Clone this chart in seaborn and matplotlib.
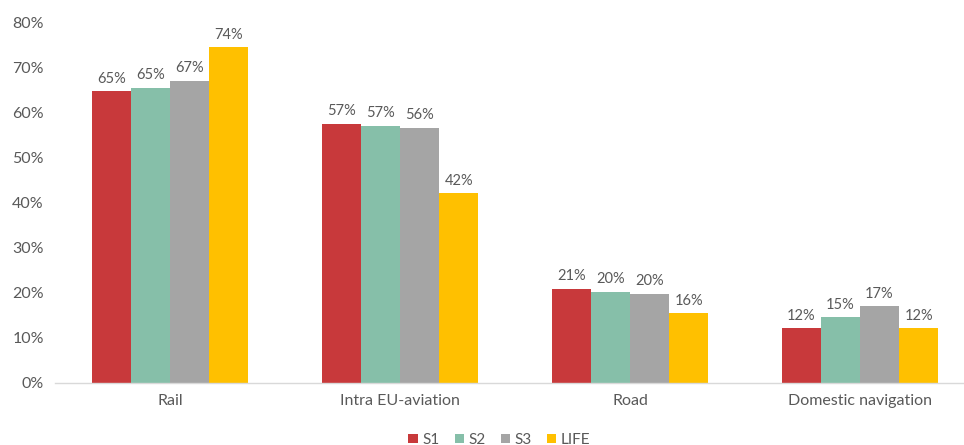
import numpy as np
import pandas as pd
import matplotlib.pyplot as plt
import seaborn as sns

categories = ["Rail", "Intra EU-aviation", "Road", "Domestic navigation"]
scenarios = ["S1", "S2", "S3", "LIFE"]
s1 = [64.6, 57.5, 20.9, 12.1]
s2 = [65.4, 57.0, 20.2, 14.6]
s3 = [67.0, 56.5, 19.8, 17.0]
life = [74.4, 42.0, 15.5, 12.1]
colors = ["#C8393B", "#86BFA9", "#A5A5A5", "#FFC000"]

df = pd.DataFrame({"S1": s1, "S2": s2, "S3": s3, "LIFE": life}, index=categories)
df = df.reset_index().melt(id_vars="index", var_name="Scenario", value_name="Share")
df.columns = ["Category", "Scenario", "Share"]
df["Share"] = df["Share"] / 100

sns.set_style("white")
plt.rcParams["font.family"] = ["Lato", "DejaVu Sans"]

fig = plt.figure(figsize=(9.64, 4.45), dpi=100)
ax = fig.add_axes([55 / 964, 62 / 445, 909 / 964, 361 / 445])

sns.barplot(
    data=df,
    x="Category",
    y="Share",
    hue="Scenario",
    hue_order=scenarios,
    order=categories,
    palette=colors,
    width=0.68,
    gap=0,
    saturation=1,
    linewidth=0,
    ax=ax,
)

for cont in ax.containers:
    ax.bar_label(
        cont,
        labels=[f"{v * 100:.0f}%" for v in cont.datavalues],
        padding=4,
        fontsize=10.5,
        color="#595959",
    )

ax.set_xlim(-0.5, -0.5 + 909 / 230)
ax.set_ylim(0, 0.8)
ax.set_yticks(np.arange(0, 0.81, 0.1))
ax.set_yticklabels([f"{int(round(t * 100))}%" for t in np.arange(0, 0.81, 0.1)])
ax.set_xlabel("")
ax.set_ylabel("")
ax.tick_params(axis="both", length=0, labelsize=11.5, colors="#595959", pad=8)

for side in ["top", "right", "left"]:
    ax.spines[side].set_visible(False)
ax.spines["bottom"].set_color("#D9D9D9")
ax.spines["bottom"].set_linewidth(1)

ax.legend(
    loc="upper center",
    bbox_to_anchor=(0.5 - 10 / 909, -0.1),
    ncol=4,
    frameon=False,
    handlelength=0.6,
    handleheight=0.6,
    handletextpad=0.3,
    columnspacing=1.0,
    fontsize=11,
    labelcolor="#595959",
)

fig.savefig("out.png", dpi=100)
